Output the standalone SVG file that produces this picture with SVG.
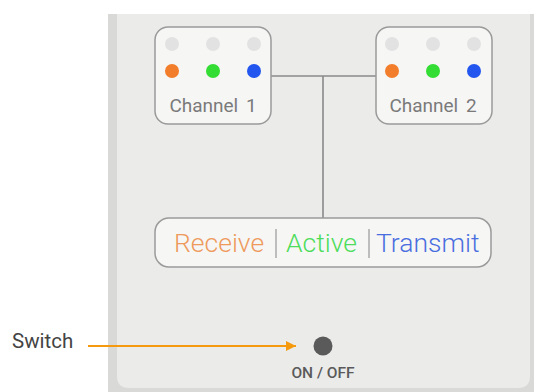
<svg xmlns="http://www.w3.org/2000/svg" width="534" height="392" viewBox="0 0 534 392">
<defs>
<style>
.box{fill:#f6f6f5;stroke:#9a9a9a;stroke-width:1.5}
.off{fill:#e2e2e2}
.lbl{font-family:Roboto,"Liberation Sans",sans-serif;font-size:19px;fill:#7a7a7a;text-anchor:middle}
.wire{stroke:#8a8a8a;stroke-width:1.6;fill:none}
.leg{font-family:Roboto,"Liberation Sans",sans-serif;font-size:26.5px;font-weight:300}
</style>
<marker id="ah" viewBox="0 0 10 10" refX="10" refY="5" markerWidth="12" markerHeight="10" markerUnits="userSpaceOnUse" orient="auto">
<path d="M0,0 L10,5 L0,10 Z" fill="#f59a0e"/>
</marker>
</defs>
<rect width="534" height="392" fill="#ffffff"/>
<g id="panel">
<rect x="108" y="14" width="426" height="378" fill="#d9d9d7"/>
<path d="M117,14 H530 V376 Q530,388 518,388 H129 Q117,388 117,376 Z" fill="#ebebea"/>
</g>
<g id="connectors">
<path class="wire" d="M271,76 H376 M323,76 V218"/>
<line x1="88" y1="346" x2="296" y2="346" stroke="#f59a0e" stroke-width="2" marker-end="url(#ah)"/>
</g>
<g id="channel1">
<rect class="box" x="155" y="27" width="116" height="97" rx="13"/>
<circle class="off" cx="172" cy="44" r="7"/>
<circle class="off" cx="213" cy="44" r="7"/>
<circle class="off" cx="254" cy="44" r="7"/>
<circle cx="172" cy="71" r="7" fill="#f27d2a"/>
<circle cx="213" cy="71" r="7" fill="#33dd33"/>
<circle cx="254" cy="71" r="7" fill="#2356ee"/>
<text class="lbl" x="213" y="112">Channel <tspan dx="3">1</tspan></text>
</g>
<g id="channel2">
<rect class="box" x="376" y="27" width="116" height="97" rx="13"/>
<circle class="off" cx="392" cy="44" r="7"/>
<circle class="off" cx="433" cy="44" r="7"/>
<circle class="off" cx="474" cy="44" r="7"/>
<circle cx="392" cy="71" r="7" fill="#f27d2a"/>
<circle cx="433" cy="71" r="7" fill="#33dd33"/>
<circle cx="474" cy="71" r="7" fill="#2356ee"/>
<text class="lbl" x="433" y="112">Channel <tspan dx="3">2</tspan></text>
</g>
<g id="legend">
<rect class="box" x="155" y="218" width="336" height="49" rx="14"/>
<text class="leg" x="174" y="252" fill="#ee9a5c">Receive</text>
<line x1="276" y1="229" x2="276" y2="258" stroke="#aaaaaa" stroke-width="1.5"/>
<text class="leg" x="286" y="252" fill="#4ddd5a">Active</text>
<line x1="369" y1="229" x2="369" y2="258" stroke="#aaaaaa" stroke-width="1.5"/>
<text class="leg" x="376" y="252" fill="#4a6ee0">Transmit</text>
</g>
<g id="switch">
<circle cx="323" cy="346" r="9.5" fill="#5a5a5a"/>
<text x="323" y="378" font-family="Roboto,'Liberation Sans',sans-serif" font-size="15.5" font-weight="500" fill="#5a5a5a" text-anchor="middle">ON / OFF</text>
</g>
<g id="switch-label">
<text x="12" y="348" font-family="Roboto,'Liberation Sans',sans-serif" font-size="20.5" fill="#444444">Switch</text>
</g>
</svg>
